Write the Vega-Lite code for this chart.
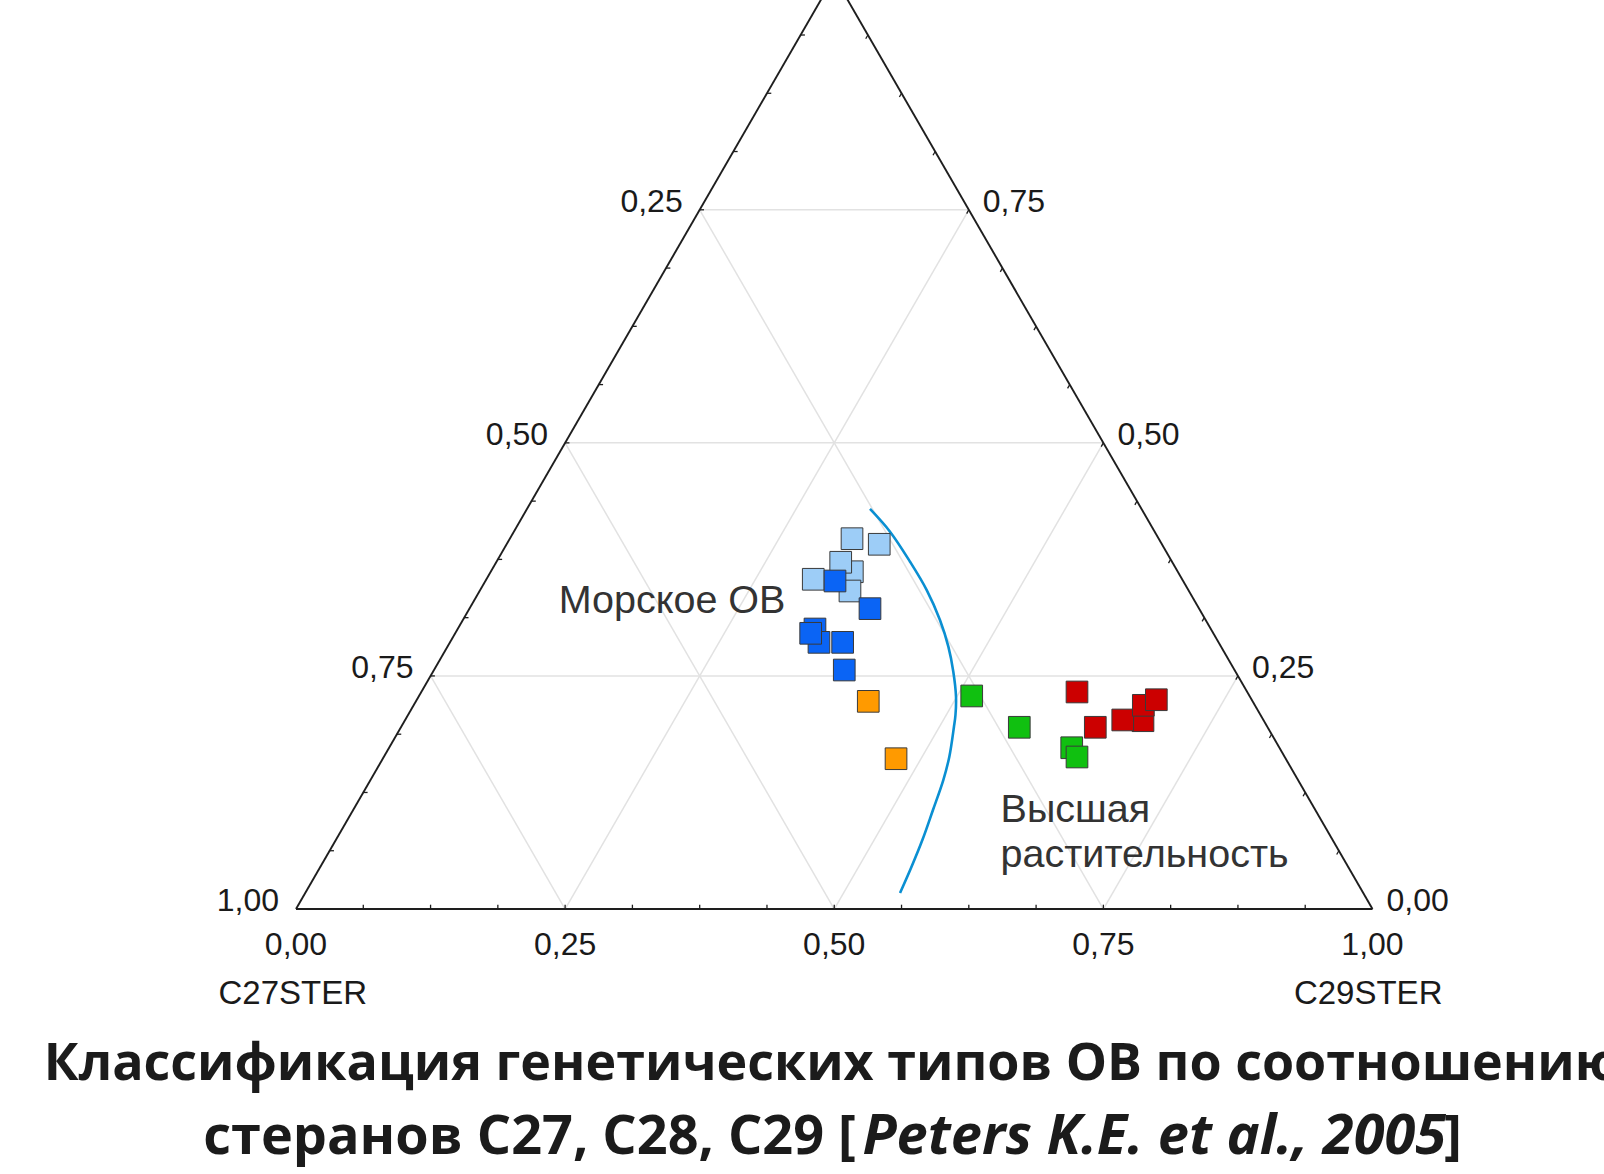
{
  "$schema": "https://vega.github.io/schema/vega-lite/v6.json",
  "width": 1604,
  "height": 1174,
  "autosize": {"type": "none"},
  "padding": 0,
  "background": "white",
  "config": {"view": {"stroke": null}},
  "datasets": {
    "edges": [
      {"x": 0, "y": 0, "x2": 1, "y2": 0},
      {"x": 0, "y": 0, "x2": 0.5, "y2": 0.866025},
      {"x": 1, "y": 0, "x2": 0.5, "y2": 0.866025}
    ],
    "grid": [
      {"x": 0.125, "y": 0.216506, "x2": 0.875, "y2": 0.216506},
      {"x": 0.25, "y": 0.433013, "x2": 0.75, "y2": 0.433013},
      {"x": 0.375, "y": 0.649519, "x2": 0.625, "y2": 0.649519},
      {"x": 0.25, "y": 0, "x2": 0.625, "y2": 0.649519},
      {"x": 0.5, "y": 0, "x2": 0.75, "y2": 0.433013},
      {"x": 0.75, "y": 0, "x2": 0.875, "y2": 0.216506},
      {"x": 0.25, "y": 0, "x2": 0.125, "y2": 0.216506},
      {"x": 0.5, "y": 0, "x2": 0.25, "y2": 0.433013},
      {"x": 0.75, "y": 0, "x2": 0.375, "y2": 0.649519}
    ],
    "ticks": [
      {"x": 0.0625, "y": 0, "x2": 0.0625, "y2": 0.004},
      {"x": 0.125, "y": 0, "x2": 0.125, "y2": 0.004},
      {"x": 0.1875, "y": 0, "x2": 0.1875, "y2": 0.004},
      {"x": 0.25, "y": 0, "x2": 0.25, "y2": 0.004},
      {"x": 0.3125, "y": 0, "x2": 0.3125, "y2": 0.004},
      {"x": 0.375, "y": 0, "x2": 0.375, "y2": 0.004},
      {"x": 0.4375, "y": 0, "x2": 0.4375, "y2": 0.004},
      {"x": 0.5, "y": 0, "x2": 0.5, "y2": 0.004},
      {"x": 0.5625, "y": 0, "x2": 0.5625, "y2": 0.004},
      {"x": 0.625, "y": 0, "x2": 0.625, "y2": 0.004},
      {"x": 0.6875, "y": 0, "x2": 0.6875, "y2": 0.004},
      {"x": 0.75, "y": 0, "x2": 0.75, "y2": 0.004},
      {"x": 0.8125, "y": 0, "x2": 0.8125, "y2": 0.004},
      {"x": 0.875, "y": 0, "x2": 0.875, "y2": 0.004},
      {"x": 0.9375, "y": 0, "x2": 0.9375, "y2": 0.004},
      {"x": 0.03125, "y": 0.05413, "x2": 0.03525, "y2": 0.05413},
      {"x": 0.0625, "y": 0.10825, "x2": 0.0665, "y2": 0.10825},
      {"x": 0.09375, "y": 0.16238, "x2": 0.09775, "y2": 0.16238},
      {"x": 0.125, "y": 0.21651, "x2": 0.129, "y2": 0.21651},
      {"x": 0.15625, "y": 0.27063, "x2": 0.16025, "y2": 0.27063},
      {"x": 0.1875, "y": 0.32476, "x2": 0.1915, "y2": 0.32476},
      {"x": 0.21875, "y": 0.37889, "x2": 0.22275, "y2": 0.37889},
      {"x": 0.25, "y": 0.43301, "x2": 0.254, "y2": 0.43301},
      {"x": 0.28125, "y": 0.48714, "x2": 0.28525, "y2": 0.48714},
      {"x": 0.3125, "y": 0.54127, "x2": 0.3165, "y2": 0.54127},
      {"x": 0.34375, "y": 0.59539, "x2": 0.34775, "y2": 0.59539},
      {"x": 0.375, "y": 0.64952, "x2": 0.379, "y2": 0.64952},
      {"x": 0.40625, "y": 0.70365, "x2": 0.41025, "y2": 0.70365},
      {"x": 0.4375, "y": 0.75777, "x2": 0.4415, "y2": 0.75777},
      {"x": 0.46875, "y": 0.8119, "x2": 0.47275, "y2": 0.8119},
      {"x": 0.96875, "y": 0.05413, "x2": 0.96675, "y2": 0.05063},
      {"x": 0.9375, "y": 0.10825, "x2": 0.9355, "y2": 0.10475},
      {"x": 0.90625, "y": 0.16238, "x2": 0.90425, "y2": 0.15888},
      {"x": 0.875, "y": 0.21651, "x2": 0.873, "y2": 0.21301},
      {"x": 0.84375, "y": 0.27063, "x2": 0.84175, "y2": 0.26713},
      {"x": 0.8125, "y": 0.32476, "x2": 0.8105, "y2": 0.32126},
      {"x": 0.78125, "y": 0.37889, "x2": 0.77925, "y2": 0.37539},
      {"x": 0.75, "y": 0.43301, "x2": 0.748, "y2": 0.42951},
      {"x": 0.71875, "y": 0.48714, "x2": 0.71675, "y2": 0.48364},
      {"x": 0.6875, "y": 0.54127, "x2": 0.6855, "y2": 0.53777},
      {"x": 0.65625, "y": 0.59539, "x2": 0.65425, "y2": 0.59189},
      {"x": 0.625, "y": 0.64952, "x2": 0.623, "y2": 0.64602},
      {"x": 0.59375, "y": 0.70365, "x2": 0.59175, "y2": 0.70015},
      {"x": 0.5625, "y": 0.75777, "x2": 0.5605, "y2": 0.75427},
      {"x": 0.53125, "y": 0.8119, "x2": 0.52925, "y2": 0.8084}
    ],
    "curve": [
      {"i": 1, "x": 0.5332, "y": 0.3716},
      {"i": 2, "x": 0.5518, "y": 0.3505},
      {"i": 3, "x": 0.5704, "y": 0.3226},
      {"i": 4, "x": 0.5859, "y": 0.2963},
      {"i": 5, "x": 0.5982, "y": 0.2685},
      {"i": 6, "x": 0.6060, "y": 0.2437},
      {"i": 7, "x": 0.6106, "y": 0.2204},
      {"i": 8, "x": 0.6131, "y": 0.1972},
      {"i": 9, "x": 0.6126, "y": 0.1802},
      {"i": 10, "x": 0.6112, "y": 0.1693},
      {"i": 11, "x": 0.6069, "y": 0.1415},
      {"i": 12, "x": 0.6013, "y": 0.1198},
      {"i": 13, "x": 0.5917, "y": 0.0920},
      {"i": 14, "x": 0.5822, "y": 0.0650},
      {"i": 15, "x": 0.5713, "y": 0.0381},
      {"i": 16, "x": 0.5611, "y": 0.0149}
    ],
    "pts": [
      {"g": "lb", "x": 0.5168, "y": 0.3133},
      {"g": "lb", "x": 0.5165, "y": 0.3440},
      {"g": "lb", "x": 0.5418, "y": 0.3388},
      {"g": "lb", "x": 0.4805, "y": 0.3063},
      {"g": "lb", "x": 0.5060, "y": 0.3221},
      {"g": "lb", "x": 0.5146, "y": 0.2954},
      {"g": "db", "x": 0.5007, "y": 0.3047},
      {"g": "db", "x": 0.5332, "y": 0.2790},
      {"g": "db", "x": 0.4821, "y": 0.2601},
      {"g": "db", "x": 0.4858, "y": 0.2477},
      {"g": "db", "x": 0.4781, "y": 0.2561},
      {"g": "db", "x": 0.5078, "y": 0.2477},
      {"g": "db", "x": 0.5093, "y": 0.2220},
      {"g": "or", "x": 0.5316, "y": 0.1929},
      {"g": "or", "x": 0.5574, "y": 0.1396},
      {"g": "gr", "x": 0.6277, "y": 0.1979},
      {"g": "gr", "x": 0.6719, "y": 0.1688},
      {"g": "gr", "x": 0.7206, "y": 0.1498},
      {"g": "gr", "x": 0.7255, "y": 0.1412},
      {"g": "rd", "x": 0.7255, "y": 0.2016},
      {"g": "rd", "x": 0.7425, "y": 0.1688},
      {"g": "rd", "x": 0.7868, "y": 0.1749},
      {"g": "rd", "x": 0.7680, "y": 0.1756},
      {"g": "rd", "x": 0.7871, "y": 0.1892},
      {"g": "rd", "x": 0.7992, "y": 0.1944}
    ],
    "lblL": [
      {"x": 0.375, "y": 0.649519, "t": "0,25"},
      {"x": 0.25, "y": 0.433013, "t": "0,50"},
      {"x": 0.125, "y": 0.216506, "t": "0,75"},
      {"x": 0, "y": 0, "t": "1,00"}
    ],
    "lblR": [
      {"x": 0.625, "y": 0.649519, "t": "0,75"},
      {"x": 0.75, "y": 0.433013, "t": "0,50"},
      {"x": 0.875, "y": 0.216506, "t": "0,25"},
      {"x": 1, "y": 0, "t": "0,00"}
    ],
    "lblB": [
      {"x": 0, "y": 0, "t": "0,00"},
      {"x": 0.25, "y": 0, "t": "0,25"},
      {"x": 0.5, "y": 0, "t": "0,50"},
      {"x": 0.75, "y": 0, "t": "0,75"},
      {"x": 1, "y": 0, "t": "1,00"}
    ],
    "ttl": [
      {"x": -0.003, "y": 0, "t": "C27STER"},
      {"x": 0.996, "y": 0, "t": "C29STER"}
    ],
    "ann": [
      {"x": 0.244, "y": 0.2747, "t": "Морское ОВ"},
      {"x": 0.6545, "y": 0.0811, "t": "Высшая"},
      {"x": 0.6545, "y": 0.0393, "t": "растительность"}
    ],
    "cap1": [
      {"x": 0.4979, "y": -0.1588, "t": "Классификация генетических типов ОВ по соотношению"}
    ],
    "cap2a": [
      {"x": 0.5202, "y": -0.2276, "t": "стеранов С27, С28, С29 ["}
    ],
    "cap2b": [
      {"x": 0.5262, "y": -0.2276, "t": "Peters K.E. et al., 2005"}
    ],
    "cap2c": [
      {"x": 1.0664, "y": -0.2276, "t": "]"}
    ]
  },
  "encoding": {
    "x": {"field": "x", "type": "quantitative", "scale": {"domain": [-0.27497, 1.21505], "nice": false, "zero": false}, "axis": null},
    "y": {"field": "y", "type": "quantitative", "scale": {"domain": [-0.24617, 0.84441], "nice": false, "zero": false}, "axis": null}
  },
  "layer": [
    {
      "data": {"name": "grid"},
      "mark": {"type": "rule", "color": "#e2e2e2", "strokeWidth": 1.5},
      "encoding": {"x2": {"field": "x2"}, "y2": {"field": "y2"}}
    },
    {
      "data": {"name": "edges"},
      "mark": {"type": "rule", "color": "#1e1e1e", "strokeWidth": 1.9},
      "encoding": {"x2": {"field": "x2"}, "y2": {"field": "y2"}}
    },
    {
      "data": {"name": "ticks"},
      "mark": {"type": "rule", "color": "#1e1e1e", "strokeWidth": 1.3},
      "encoding": {"x2": {"field": "x2"}, "y2": {"field": "y2"}}
    },
    {
      "data": {"name": "curve"},
      "mark": {"type": "line", "interpolate": "catmull-rom", "color": "#0a8fd2", "strokeWidth": 2.6},
      "encoding": {"order": {"field": "i", "type": "quantitative"}}
    },
    {
      "data": {"name": "pts"},
      "mark": {"type": "point", "shape": "square", "filled": true, "size": 470, "stroke": "#3a3a3a", "strokeWidth": 1, "opacity": 1},
      "encoding": {
        "color": {
          "field": "g", "type": "nominal", "legend": null,
          "scale": {"domain": ["lb", "db", "or", "gr", "rd"], "range": ["#9dcdf7", "#0a64f5", "#ff9a00", "#10c010", "#cc0000"]}
        }
      }
    },
    {
      "data": {"name": "lblL"},
      "mark": {"type": "text", "align": "right", "baseline": "middle", "dx": -17, "dy": -8, "font": "Liberation Sans", "fontSize": 32, "color": "#1a1a1a"},
      "encoding": {"text": {"field": "t"}}
    },
    {
      "data": {"name": "lblR"},
      "mark": {"type": "text", "align": "left", "baseline": "middle", "dx": 14, "dy": -8, "font": "Liberation Sans", "fontSize": 32, "color": "#1a1a1a"},
      "encoding": {"text": {"field": "t"}}
    },
    {
      "data": {"name": "lblB"},
      "mark": {"type": "text", "align": "center", "baseline": "middle", "dy": 36, "font": "Liberation Sans", "fontSize": 32, "color": "#1a1a1a"},
      "encoding": {"text": {"field": "t"}}
    },
    {
      "data": {"name": "ttl"},
      "mark": {"type": "text", "align": "center", "baseline": "middle", "dy": 85, "font": "Liberation Sans", "fontSize": 33, "color": "#1a1a1a"},
      "encoding": {"text": {"field": "t"}}
    },
    {
      "data": {"name": "ann"},
      "mark": {"type": "text", "align": "left", "baseline": "alphabetic", "font": "Liberation Sans", "fontSize": 39.5, "color": "#333333"},
      "encoding": {"text": {"field": "t"}}
    },
    {
      "data": {"name": "cap1"},
      "mark": {"type": "text", "align": "center", "baseline": "alphabetic", "font": "Open Sans", "fontWeight": "bold", "fontSize": 52, "color": "#1b1b1b"},
      "encoding": {"text": {"field": "t"}}
    },
    {
      "data": {"name": "cap2a"},
      "mark": {"type": "text", "align": "right", "baseline": "alphabetic", "font": "Open Sans", "fontWeight": "bold", "fontSize": 54, "color": "#1b1b1b"},
      "encoding": {"text": {"field": "t"}}
    },
    {
      "data": {"name": "cap2b"},
      "mark": {"type": "text", "align": "left", "baseline": "alphabetic", "font": "Open Sans", "fontWeight": "bold", "fontStyle": "italic", "fontSize": 56, "color": "#1b1b1b"},
      "encoding": {"text": {"field": "t"}}
    },
    {
      "data": {"name": "cap2c"},
      "mark": {"type": "text", "align": "left", "baseline": "alphabetic", "font": "Open Sans", "fontWeight": "bold", "fontSize": 54, "color": "#1b1b1b"},
      "encoding": {"text": {"field": "t"}}
    }
  ]
}
